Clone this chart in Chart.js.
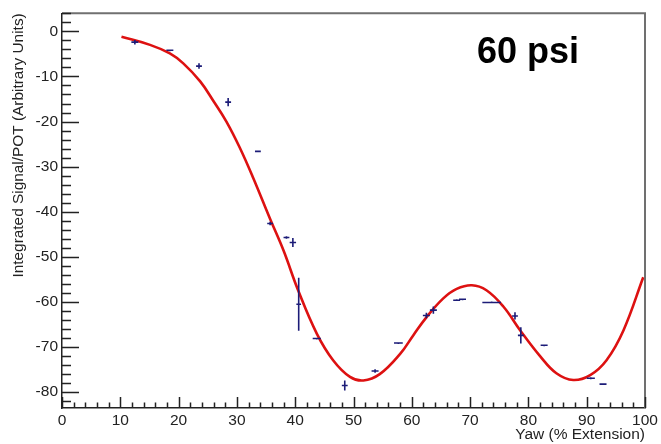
<!DOCTYPE html>
<html>
<head>
<meta charset="utf-8">
<script src="https://cdn.jsdelivr.net/npm/chart.js@4"></script>
<style>
  html, body { margin: 0; padding: 0; background: #fff; }
  #wrap { width: 661px; height: 444px; position: relative; }
</style>
</head>
<body>
<div id="wrap"><canvas id="yawChart"></canvas></div>
<script>
// measured points (yaw %, signal/POT) with their errors
const yawPos = [12.5, 18.5, 23.5, 28.5, 33.6, 35.7, 38.5, 39.6, 40.6, 43.7, 48.5, 53.7, 57.7, 62.5, 63.7, 67.7, 68.7, 73.7, 77.7, 78.7, 82.7, 90.7, 92.8];
const signal = [-2.4, -4.2, -7.7, -15.7, -26.6, -42.6, -45.7, -46.8, -60.5, -68.1, -78.5, -75.3, -69.1, -63.0, -61.8, -59.6, -59.4, -60.1, -63.1, -67.4, -69.6, -76.9, -78.2];
const yawErr = [0.6, 0.6, 0.5, 0.5, 0.5, 0.5, 0.5, 0.55, 0.4, 0.7, 0.5, 0.6, 0.75, 0.6, 0.6, 0.6, 0.6, 1.6, 0.5, 0.5, 0.6, 0.7, 0.6];
const sigErr = [0.5, 0.2, 0.6, 0.9, 0.2, 0.4, 0.3, 1.0, 5.9, 0.2, 1.1, 0.4, 0.2, 0.6, 0.8, 0.2, 0.2, 0.2, 0.8, 1.8, 0.2, 0.2, 0.2];

// fit curve samples
const fitYaw = [10.2, 15.1, 18.5, 20.8, 23.7, 26.0, 28.2, 30.5, 32.8, 35.7, 38.0, 40.5, 43.7, 46.5, 49.4, 51.7, 54.5, 58.0, 60.3, 62.5, 65.4, 67.7, 70.3, 72.8, 75.7, 78.6, 82.0, 84.8, 87.7, 90.6, 93.4, 96.3, 99.7];
const fitSig = [-1.2, -3.0, -4.9, -7.1, -11.1, -15.5, -20.0, -25.8, -32.5, -41.6, -48.6, -57.4, -67.0, -72.9, -76.6, -77.4, -76.0, -71.5, -67.3, -63.4, -59.2, -57.1, -56.3, -57.4, -61.0, -66.3, -72.0, -75.8, -77.3, -76.2, -72.9, -66.3, -54.5];

const xTicks = [0, 10, 20, 30, 40, 50, 60, 70, 80, 90, 100];
const yTicks = [0, -10, -20, -30, -40, -50, -60, -70, -80];

const FONT = "'Liberation Sans', Arial, Helvetica, sans-serif";
const ERR_COLOR = '#1c1c78';

// ROOT-style frame: inward ticks on x and y, grey top/right border
const framePlugin = {
  id: 'frame',
  afterDraw(chart) {
    const ctx = chart.ctx;
    const { left, right, top, bottom } = chart.chartArea;
    const xs = chart.scales.x, ys = chart.scales.y;
    ctx.save();
    ctx.strokeStyle = '#707070';
    ctx.lineWidth = 2;
    ctx.beginPath();
    ctx.moveTo(left, top);
    ctx.lineTo(right, top);
    ctx.lineTo(right, bottom);
    ctx.stroke();

    ctx.strokeStyle = '#222';
    ctx.lineWidth = 1.5;
    ctx.beginPath();
    for (let v = 0; v <= 100; v += 2) {
      const px = Math.round(xs.getPixelForValue(v)) + 0.5;
      const len = v % 10 === 0 ? 11 : 5.5;
      ctx.moveTo(px, bottom);
      ctx.lineTo(px, bottom - len);
    }
    for (let v = 4; v >= -82; v -= 2) {
      const py = Math.round(ys.getPixelForValue(v)) + 0.5;
      const len = v % 10 === 0 ? 17 : 9;
      ctx.moveTo(left, py);
      ctx.lineTo(left + len, py);
    }
    ctx.stroke();

    ctx.fillStyle = '#000';
    ctx.font = 'bold 36px ' + FONT;
    ctx.textAlign = 'center';
    ctx.textBaseline = 'alphabetic';
    ctx.fillText('60 psi', 528, 63);
    ctx.restore();
  }
};

// error bars for the measured points
const errorBarPlugin = {
  id: 'errorBars',
  afterDatasetsDraw(chart) {
    const ctx = chart.ctx;
    const xs = chart.scales.x, ys = chart.scales.y;
    ctx.save();
    ctx.strokeStyle = ERR_COLOR;
    ctx.lineWidth = 1.6;
    ctx.beginPath();
    yawPos.forEach((x, i) => {
      const y = signal[i];
      const cx = xs.getPixelForValue(x), cy = ys.getPixelForValue(y);
      ctx.moveTo(xs.getPixelForValue(x - yawErr[i]), cy);
      ctx.lineTo(xs.getPixelForValue(x + yawErr[i]), cy);
      ctx.moveTo(cx, ys.getPixelForValue(y + sigErr[i]));
      ctx.lineTo(cx, ys.getPixelForValue(y - sigErr[i]));
    });
    ctx.stroke();
    ctx.restore();
  }
};

document.addEventListener('DOMContentLoaded', () => {
  const ctx = document.getElementById('yawChart').getContext('2d');
  new Chart(ctx, {
    type: 'scatter',
    data: {
      datasets: [
        {
          label: 'data',
          data: yawPos.map((x, i) => ({ x, y: signal[i] })),
          pointRadius: 0,
          showLine: false
        },
        {
          label: 'fit',
          data: fitYaw.map((x, i) => ({ x, y: fitSig[i] })),
          showLine: true,
          pointRadius: 0,
          borderColor: '#dd1111',
          borderWidth: 2.6,
          tension: 0.4
        }
      ]
    },
    options: {
      responsive: false,
      animation: false,
      layout: { padding: { top: 11, right: 16, left: 0, bottom: 0 } },
      plugins: { legend: { display: false }, tooltip: { enabled: false } },
      scales: {
        x: {
          type: 'linear',
          min: 0,
          max: 100,
          afterBuildTicks: (s) => { s.ticks = xTicks.map((v) => ({ value: v })); },
          afterFit: (s) => { s.height = 36; },
          grid: { display: false, drawTicks: false },
          border: { display: true, color: '#222', width: 1.5 },
          ticks: { color: '#222', padding: 3, maxRotation: 0, font: { family: FONT, size: 15.5 } },
          title: {
            display: true,
            text: 'Yaw (% Extension)',
            align: 'end',
            color: '#222',
            padding: { top: 0, bottom: 0 },
            font: { family: FONT, size: 15.5 }
          }
        },
        y: {
          type: 'linear',
          min: -83.5,
          max: 4,
          afterBuildTicks: (s) => { s.ticks = yTicks.map((v) => ({ value: v })); },
          afterFit: (s) => { s.width = 62; },
          grid: { display: false, drawTicks: false },
          border: { display: true, color: '#222', width: 1.5 },
          ticks: { color: '#222', padding: 4, font: { family: FONT, size: 15.5 } },
          title: {
            display: true,
            text: 'Integrated Signal/POT (Arbitrary Units)',
            align: 'end',
            color: '#222',
            padding: { top: 10, bottom: 0 },
            font: { family: FONT, size: 15.4 }
          }
        }
      }
    },
    plugins: [framePlugin, errorBarPlugin]
  });
});
</script>
<script>
  // size the canvas to the page
  const c = document.getElementById('yawChart');
  c.width = 661; c.height = 444;
  c.style.width = '661px'; c.style.height = '444px';
</script>
</body>
</html>
